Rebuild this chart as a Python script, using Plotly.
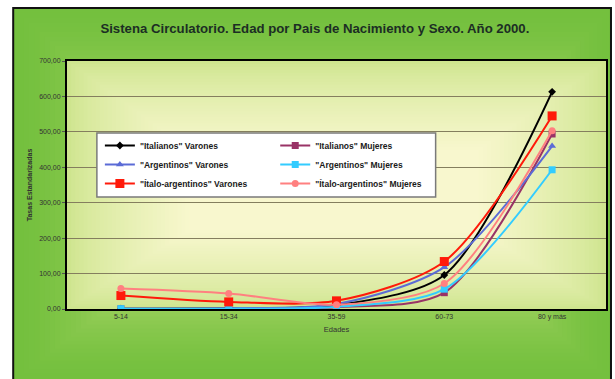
import plotly.graph_objects as go

# Age groups and standardized rates per series
edades = ["5-14", "15-34", "35-59", "60-73", "80 y más"]
italianos_varones = [1, 2, 11, 96, 613]
italianos_mujeres = [0.5, 1, 5, 46, 494]
argentinos_varones = [1, 2, 14, 118, 460]
argentinos_mujeres = [1, 1, 6, 56, 393]
italo_varones = [38, 20, 23, 134, 545]
italo_mujeres = [58, 44, 12, 72, 503]

y_ticks = [0, 100, 200, 300, 400, 500, 600, 700]
y_ticktext = ["0,00", "100,00", "200,00", "300,00", "400,00", "500,00", "600,00", "700,00"]

W, H = 615, 379
L, R, T, B = 67, 608, 61, 309  # plot area in pixels


def px_x(px):
    return (px - L) / (R - L)


def px_y(py):
    return (B - py) / (B - T)


series = [
    ('"Italianos" Varones', italianos_varones, "#000000", "diamond", 6, "legend"),
    ('"Italianos" Mujeres', italianos_mujeres, "#993366", "square", 7, "legend2"),
    ('"Argentinos" Varones', argentinos_varones, "#5b6bd6", "triangle-up", 7, "legend"),
    ('"Argentinos" Mujeres', argentinos_mujeres, "#33ccff", "square", 7, "legend2"),
    ('"Ítalo-argentinos" Varones', italo_varones, "#ff1a0a", "square", 9, "legend"),
    ('"Ítalo-argentinos" Mujeres', italo_mujeres, "#ff8080", "circle", 7, "legend2"),
]

fig = go.Figure()
for name, vals, color, symbol, size, leg in series:
    fig.add_trace(go.Scatter(
        x=edades, y=vals, name=name, mode="lines+markers",
        line=dict(color=color, width=2, shape="spline", smoothing=0.8),
        marker=dict(color=color, symbol=symbol, size=size),
        legend=leg,
    ))


def band_gradient(outer, inner, c_out, c_in, steps, power):
    """Concentric rectangles blending from c_out at `outer` to c_in at `inner`."""
    out = []
    for i in range(steps + 1):
        t = i / steps
        x0 = outer[0] + (inner[0] - outer[0]) * t
        y0 = outer[1] + (inner[1] - outer[1]) * t
        x1 = outer[2] + (inner[2] - outer[2]) * t
        y1 = outer[3] + (inner[3] - outer[3]) * t
        k = t ** power
        col = tuple(int(round(a + (b - a) * k)) for a, b in zip(c_out, c_in))
        out.append(dict(
            type="rect", xref="paper", yref="paper", layer="below",
            x0=px_x(x0), x1=px_x(x1), y0=px_y(y1), y1=px_y(y0),
            fillcolor="rgb(%d,%d,%d)" % col, line=dict(width=0),
        ))
    return out


shapes = []
# Green frame, lighter towards the middle
shapes += band_gradient((13, 8, 613, 381), (170, 150, 480, 260),
                        (116, 192, 62), (196, 224, 122), 30, 1.6)
# Plot area, pale yellow centre fading to light green edges
shapes += band_gradient((L, T, R, B), (190, 150, 480, 230),
                        (206, 229, 142), (248, 247, 206), 30, 0.75)

# Outer frame border
shapes.append(dict(
    type="rect", xref="paper", yref="paper", layer="above",
    x0=px_x(13), x1=px_x(613), y0=px_y(381), y1=px_y(8),
    line=dict(color="#111111", width=2), fillcolor="rgba(0,0,0,0)",
))
# Legend box
shapes.append(dict(
    type="rect", xref="paper", yref="paper", layer="above",
    x0=px_x(97), x1=px_x(437), y0=px_y(197), y1=px_y(133),
    line=dict(color="#7a7a7a", width=1.5), fillcolor="#ffffff",
))

legend_font = dict(family="Liberation Sans, Arial", size=8.5, color="#1a1a1a", weight="bold")

fig.update_layout(
    width=W, height=H,
    margin=dict(l=L, r=W - R, t=T, b=H - B),
    paper_bgcolor="#ffffff",
    plot_bgcolor="rgba(0,0,0,0)",
    shapes=shapes,
    title=dict(
        text="<b>Sistena Circulatorio. Edad por Pais de Nacimiento y Sexo. Año 2000.</b>",
        x=0.512, xanchor="center", y=1 - 28 / H, yanchor="middle",
        font=dict(family="Liberation Sans, Arial", size=13.2, color="#1c2e24"),
    ),
    xaxis=dict(
        type="category", range=[-0.5, 4.5],
        showgrid=False, showline=True, mirror=True, linecolor="#000000", linewidth=2,
        ticks="", tickfont=dict(family="Liberation Sans, Arial", size=7, color="#333333"),
        title=dict(text="Edades", font=dict(family="Liberation Sans, Arial", size=7.5, color="#333333"), standoff=6),
    ),
    yaxis=dict(
        range=[0, 700], tickvals=y_ticks, ticktext=y_ticktext,
        showgrid=True, gridcolor="#847e5e", gridwidth=1.3, zeroline=False,
        showline=True, mirror=True, linecolor="#000000", linewidth=2,
        ticks="outside", ticklen=3, tickcolor="#555555",
        tickfont=dict(family="Liberation Sans, Arial", size=7, color="#333333"),
        title=dict(text="<b>Tasas Estandarizadas</b>", font=dict(family="Liberation Sans, Arial", size=7, color="#333333"), standoff=6),
    ),
    legend=dict(
        x=px_x(100), y=px_y(131), xanchor="left", yanchor="top",
        bgcolor="rgba(0,0,0,0)", borderwidth=0, font=legend_font,
        itemwidth=30, tracegroupgap=0,
    ),
    legend2=dict(
        x=px_x(276), y=px_y(131), xanchor="left", yanchor="top",
        bgcolor="rgba(0,0,0,0)", borderwidth=0, font=legend_font,
        itemwidth=30, tracegroupgap=0,
    ),
)

fig.write_html("out.html")
